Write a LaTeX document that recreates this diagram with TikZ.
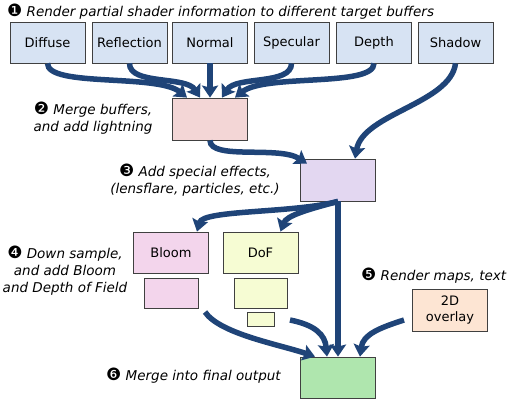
\documentclass[tikz,border=0pt]{standalone}
\usepackage{fontspec}
\setmainfont{DejaVu Sans}
\usetikzlibrary{arrows.meta}
\definecolor{flowblue}{HTML}{1F4478}
\definecolor{bufblue}{HTML}{D7E3F3}
\definecolor{mergepink}{HTML}{F3D6D6}
\definecolor{fxlilac}{HTML}{E3D7F1}
\definecolor{bloompink}{HTML}{F3D5EC}
\definecolor{dofyellow}{HTML}{F6FCD3}
\definecolor{overlaypeach}{HTML}{FDE5D3}
\definecolor{finalgreen}{HTML}{AFE6AE}
\newcommand{\stepmark}[1]{{\upshape\fontsize{17}{17}\selectfont #1}}

\begin{document}
\begin{tikzpicture}[x=1pt,y=-1pt,
    every node/.style={font=\fontsize{13}{17}\selectfont},
    buffer/.style={draw=black!75, line width=0.8pt, rectangle, inner sep=0pt, minimum width=75pt, minimum height=41pt},
    note/.style={font=\fontsize{13.5}{17}\selectfont\itshape, align=center, inner sep=0pt},
    flow/.style={draw=flowblue, line width=5.5pt, -{Stealth[length=12pt,width=16pt,inset=2pt]}}]
    \useasboundingbox (0,0) rectangle (514,402);
    % step 1: render targets
    \node[note, anchor=west] (stepone) at (7,12) {\stepmark{❶} Render partial shader information to different target buffers};
    \node[buffer, fill=bufblue] (diffuse) at (47.5,42.5) {Diffuse};
    \node[buffer, fill=bufblue] (reflection) at (129.5,42.5) {Reflection};
    \node[buffer, fill=bufblue] (normal) at (210,42.5) {Normal};
    \node[buffer, fill=bufblue] (specular) at (291.5,42.5) {Specular};
    \node[buffer, fill=bufblue] (depth) at (374,42.5) {Depth};
    \node[buffer, fill=bufblue] (shadow) at (455.5,42.5) {Shadow};
    % step 2 and 3
    \node[note] (steptwo) at (93,118) {\stepmark{❷} Merge buffers,\\and add lightning};
    \node[buffer, fill=mergepink, minimum height=42pt] (merge) at (210,119) {};
    \node[note] (stepthree) at (195,180) {\stepmark{❸} Add special effects,\\(lensflare, particles, etc.)};
    \node[buffer, fill=fxlilac, minimum height=42pt] (effects) at (338,180) {};
    % step 4: down sampling
    \node[note] (stepfour) at (65,271) {\stepmark{❹} Down sample,\\and add Bloom\\and Depth of Field};
    \node[buffer, fill=bloompink] (bloom) at (171,252.5) {Bloom};
    \node[buffer, fill=dofyellow] (dof) at (260.5,252.5) {DoF};
    \node[buffer, fill=bloompink, minimum width=54pt, minimum height=30pt] (bloomhalf) at (171,293) {};
    \node[buffer, fill=dofyellow, minimum width=53pt, minimum height=30pt] (dofhalf) at (260.5,293) {};
    \node[buffer, fill=dofyellow, minimum width=27pt, minimum height=14pt] (dofquarter) at (260.5,319) {};
    % step 5 and 6
    \node[note, anchor=west] (stepfive) at (361,276) {\stepmark{❺} Render maps, text};
    \node[buffer, fill=overlaypeach, minimum height=42pt, align=center, font=\fontsize{13}{16}\selectfont] (overlay) at (450,310) {2D\\overlay};
    \node[note, anchor=west] (stepsix) at (106,376) {\stepmark{❻} Merge into final output};
    \node[buffer, fill=finalgreen] (final) at (338,377.5) {};
    \coordinate (bloomout) at (205,312);
    \coordinate (dofout) at (290,320);
    \coordinate (overlayout) at (404,320);
    % connectors
    \draw[flow] (diffuse.south) .. controls +(0,24) and +(-30,-24) .. ([xshift=-23pt]merge.north);
    \draw[flow] (reflection.south) .. controls +(0,22) and +(-14,-22) .. ([xshift=-10pt]merge.north);
    \draw[flow] (normal.south) -- (merge.north);
    \draw[flow] (specular.south) .. controls +(0,22) and +(14,-22) .. ([xshift=12pt]merge.north);
    \draw[flow] (depth.south) .. controls +(0,24) and +(30,-24) .. ([xshift=25pt]merge.north);
    \draw[flow] (shadow.south) .. controls +(-5,40) and +(8,-45) .. ([xshift=17pt]effects.north);
    \draw[flow] (merge.south) .. controls +(0,20) and +(-28,-18) .. ([xshift=-31pt,yshift=-5pt]effects.north);
    \draw[flow] (effects.south) .. controls +(-45,12) and +(6,-22) .. ([xshift=26pt]bloom.north);
    \draw[flow] (effects.south) .. controls +(-30,8) and +(6,-16) .. ([xshift=20pt]dof.north);
    \draw[flow] (effects.south) -- (final.north);
    \draw[flow] (bloomout) .. controls +(15,22) and +(-35,-12) .. ([xshift=-23pt]final.north);
    \draw[flow] (dofout) .. controls +(25,5) and +(-2,-22) .. ([xshift=-11pt]final.north);
    \draw[flow] (overlayout) .. controls +(-25,8) and +(3,-22) .. ([xshift=22pt]final.north);
\end{tikzpicture}
\end{document}
